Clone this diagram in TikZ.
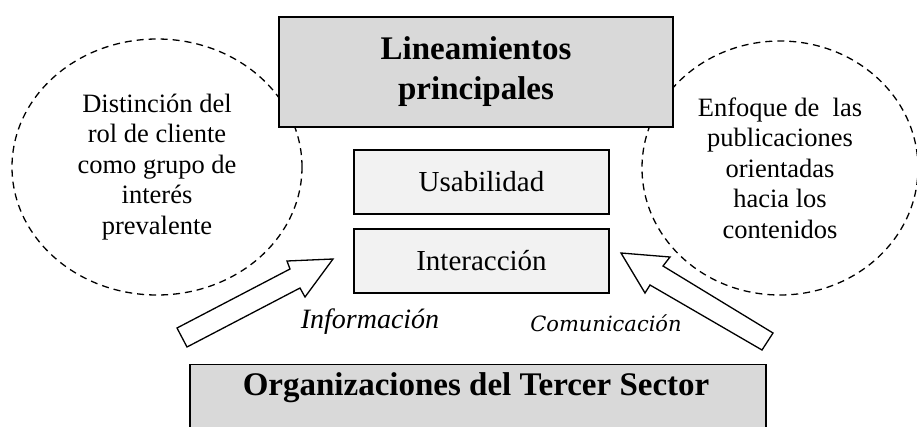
\documentclass[tikz,border=0pt]{standalone}
\usepackage{fontspec}
\setmainfont{Liberation Serif}
\newfontfamily\labfont{DejaVu Serif}
\usetikzlibrary{shapes.geometric}
\definecolor{boxgray}{HTML}{D9D9D9}
\definecolor{lightbox}{HTML}{F2F2F2}
\tikzset{
  mainbox/.style={draw=black, line width=1.4pt, fill=boxgray, inner sep=0pt, align=center,
    font=\fontsize{33}{40}\selectfont\bfseries},
  subbox/.style={draw=black, line width=1.4pt, fill=lightbox, inner sep=0pt,
    minimum width=255pt, minimum height=64pt, font=\fontsize{29}{34}\selectfont},
  cloud/.style={ellipse, draw=black, line width=1.3pt, dash pattern=on 7pt off 5pt,
    inner sep=0pt, align=center, font=\fontsize{26.5}{30.5}\selectfont},
  blockarrow/.style={draw=black, line width=1.3pt, fill=white, line join=miter},
  lab/.style={inner sep=0pt}
}
\begin{document}
\begin{tikzpicture}[x=1pt,y=-1pt]
\clip (0,0) rectangle (917,426);
\useasboundingbox (0,0) rectangle (917,426);
% dashed ellipses
\node[cloud, minimum width=290pt, minimum height=256pt] (left) at (157,167)
  {Distinción del\\rol de cliente\\como grupo de\\interés\\prevalente};
\node[cloud, minimum width=276pt, minimum height=254pt] (right) at (780,168)
  {Enfoque de\ \ las\\publicaciones\\orientadas\\hacia los\\contenidos};
% top box
\node[mainbox, minimum width=394pt, minimum height=110pt] (top) at (476,72)
  {Lineamientos\\principales};
% sub boxes
\node[subbox] (usa) at (481.5,182) {Usabilidad};
\node[subbox] (inter) at (481.5,261) {Interacción};
% bottom box
\node[mainbox, minimum width=576pt, minimum height=80pt, anchor=north] (bottom) at (478,364) {};
\node[lab, font=\fontsize{33}{40}\selectfont\bfseries] (bottomtext) at (476,388) {Organizaciones del Tercer Sector};
% block arrows
\draw[blockarrow] (177,328) -- (290,269) -- (287,261) -- (333,259) -- (305,297) -- (300,288) -- (187,347) -- cycle;
\draw[blockarrow] (773,333) -- (663,266) -- (670,257) -- (621,253) -- (645,293) -- (650,285) -- (762,350) -- cycle;
% labels
\node[lab, font=\fontsize{28}{32}\selectfont\itshape] (info) at (370,322) {Información};
\node[lab, font=\fontsize{21}{26}\selectfont\labfont\itshape] (comu) at (606,323) {Comunicación};
\end{tikzpicture}
\end{document}
